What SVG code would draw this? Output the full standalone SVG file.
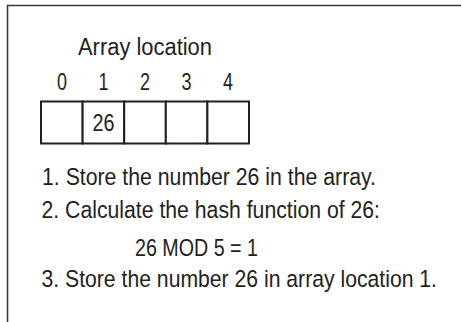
<svg xmlns="http://www.w3.org/2000/svg" width="461" height="322" viewBox="0 0 461 322">
<style>
text{font-family:"Liberation Sans",Arial,sans-serif;font-size:23.5px;fill:#231f20}
.c{text-anchor:middle}
.cell{fill:#fff;stroke:#231f20;stroke-width:2}
.frame{fill:none;stroke:#3a3a3a;stroke-width:1.6}
</style>
<rect width="461" height="322" fill="#fff"/>
<path class="frame" d="M7.5 322 V5.5 H461"/>
<g id="title"><text x="78" y="55" textLength="134" lengthAdjust="spacingAndGlyphs">Array location</text></g>
<g id="indices">
<text class="c" x="62" y="90" textLength="10" lengthAdjust="spacingAndGlyphs">0</text>
<text class="c" x="103.5" y="90" textLength="10" lengthAdjust="spacingAndGlyphs">1</text>
<text class="c" x="145" y="90" textLength="10" lengthAdjust="spacingAndGlyphs">2</text>
<text class="c" x="186.5" y="90" textLength="10" lengthAdjust="spacingAndGlyphs">3</text>
<text class="c" x="228" y="90" textLength="10" lengthAdjust="spacingAndGlyphs">4</text>
</g>
<g id="array">
<rect class="cell" x="41" y="101.5" width="41.6" height="42"/>
<rect class="cell" x="82.6" y="101.5" width="41.6" height="42"/>
<rect class="cell" x="124.2" y="101.5" width="41.6" height="42"/>
<rect class="cell" x="165.8" y="101.5" width="41.6" height="42"/>
<rect class="cell" x="207.4" y="101.5" width="41.6" height="42"/>
<text x="92.5" y="131" textLength="22" lengthAdjust="spacingAndGlyphs">26</text>
</g>
<g id="steps">
<text x="42" y="184.5" textLength="334" lengthAdjust="spacingAndGlyphs">1. Store the number 26 in the array.</text>
<text x="41.5" y="217.5" textLength="338.5" lengthAdjust="spacingAndGlyphs">2. Calculate the hash function of 26:</text>
<text x="135" y="255.5" textLength="123" lengthAdjust="spacingAndGlyphs">26 MOD 5 = 1</text>
<text transform="matrix(0.88 0 0 1 41.5 0)" x="0" y="287.5" textLength="449.4" lengthAdjust="spacingAndGlyphs">3. Store the number 26 in array location 1.</text>
</g>
</svg>
